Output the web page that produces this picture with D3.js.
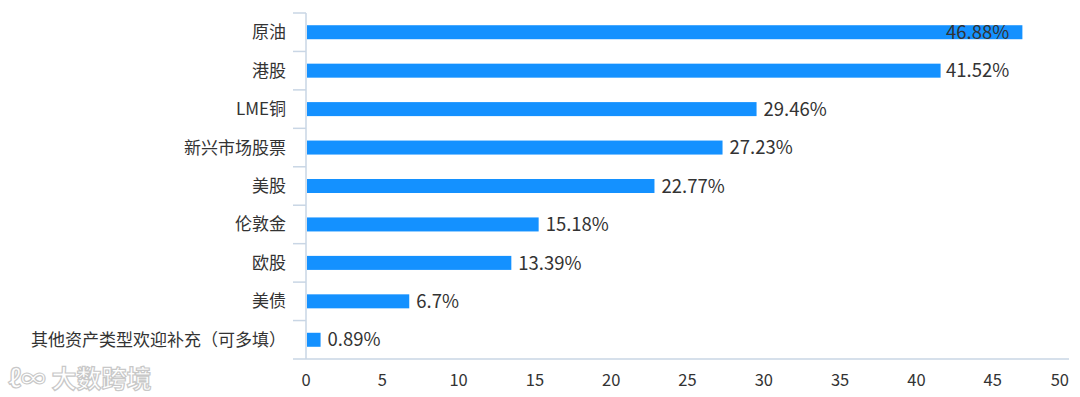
<!DOCTYPE html>
<html>
<head>
<meta charset="utf-8">
<script src="https://cdn.jsdelivr.net/npm/d3@7"></script>
<style>
  body { margin: 0; background: #fff; }
  svg { display: block; font-family: "Microsoft YaHei", "Noto Sans CJK SC", "Noto Sans", sans-serif; }
</style>
</head>
<body>
<div id="chart"></div>
<script>
// Data
const categories = ["原油", "港股", "LME铜", "新兴市场股票", "美股", "伦敦金", "欧股", "美债", "其他资产类型欢迎补充（可多填）"];
const values = [46.88, 41.52, 29.46, 27.23, 22.77, 15.18, 13.39, 6.7, 0.89];
const xTicks = [0, 5, 10, 15, 20, 25, 30, 35, 40, 45, 50];

const width = 1080, height = 397;
const margin = {top: 13, right: 11, bottom: 38, left: 306};
const innerW = width - margin.left - margin.right;
const innerH = height - margin.top - margin.bottom;
const axisColor = "#c9d6e5";
const textColor = "#333";
const barColor = "#1491ff";

const svg = d3.select("#chart")
    .append("svg")
    .attr("width", width)
    .attr("height", height);

const g = svg.append("g")
    .attr("transform", `translate(${margin.left},${margin.top})`);

const x = d3.scaleLinear().domain([0, 50]).range([0, innerW]);
const y = d3.scaleBand().domain(categories).range([0, innerH]);

// Category boundary ticks on the y axis
const bounds = d3.range(categories.length + 1).map(i => i * y.step());
g.selectAll(".ytick")
    .data(bounds)
    .enter()
    .append("line")
    .attr("x1", -13).attr("x2", 0)
    .attr("y1", d => d).attr("y2", d => d)
    .attr("stroke", axisColor)
    .attr("stroke-width", 1.5);

// Axis lines
g.append("line")
    .attr("x1", 0).attr("x2", 0)
    .attr("y1", 0).attr("y2", innerH)
    .attr("stroke", axisColor).attr("stroke-width", 1.5);
g.append("line")
    .attr("x1", 0).attr("x2", innerW)
    .attr("y1", innerH).attr("y2", innerH)
    .attr("stroke", axisColor).attr("stroke-width", 1.5);

// Category labels
g.selectAll(".ylabel")
    .data(categories)
    .enter()
    .append("text")
    .attr("x", -20)
    .attr("y", d => y(d) + y.bandwidth() / 2)
    .attr("dy", "0.35em")
    .attr("text-anchor", "end")
    .attr("font-size", 17)
    .attr("fill", textColor)
    .text(d => d);

// X tick labels
g.selectAll(".xlabel")
    .data(xTicks)
    .enter()
    .append("text")
    .attr("x", d => x(d))
    .attr("y", innerH + 27)
    .attr("text-anchor", (d, i) => i === xTicks.length - 1 ? "end" : "middle")
    .attr("font-size", 16.5)
    .attr("fill", textColor)
    .text(d => d);

// Bars
const barH = 14;
g.selectAll(".bar")
    .data(categories)
    .enter()
    .append("rect")
    .attr("x", 1)
    .attr("y", d => y(d) + y.bandwidth() / 2 - barH / 2)
    .attr("width", (d, i) => x(values[i]))
    .attr("height", barH)
    .attr("fill", barColor);

// Value labels (kept inside the drawing area)
g.selectAll(".vlabel")
    .data(categories)
    .enter()
    .append("text")
    .attr("x", (d, i) => Math.min(x(values[i]) + 8, 640))
    .attr("y", d => y(d) + y.bandwidth() / 2)
    .attr("dy", "0.36em")
    .attr("font-size", 18.5)
    .attr("fill", textColor)
    .text((d, i) => values[i] + "%");

// Watermark
svg.append("text")
    .attr("x", 8)
    .attr("y", 388)
    .attr("font-size", 25)
    .attr("font-weight", "bold")
    .attr("fill", "#fff")
    .attr("stroke", "#c8c8c8")
    .attr("stroke-width", 1.2)
    .text("ℓ∞ 大数跨境");
</script>
</body>
</html>
